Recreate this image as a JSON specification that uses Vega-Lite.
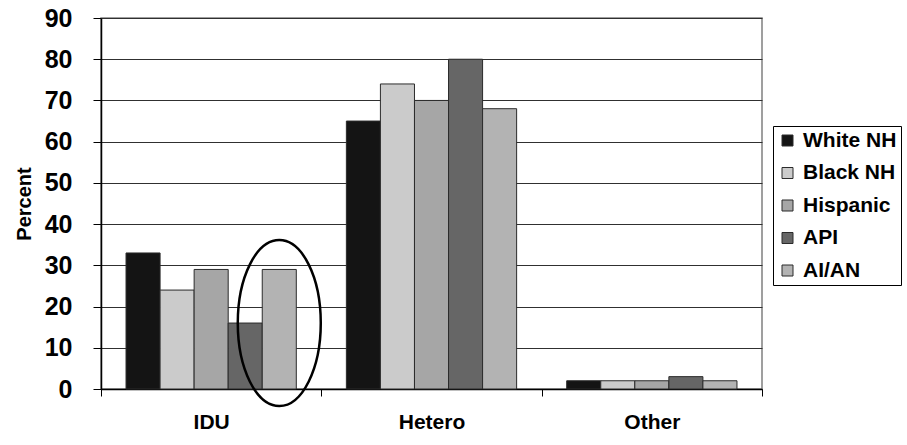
{
  "$schema": "https://vega.github.io/schema/vega-lite/v6.json",
  "autosize": "none",
  "width": 661,
  "height": 371,
  "padding": {"left": 101, "top": 18, "right": 145, "bottom": 56},
  "background": "white",
  "config": {
    "font": "Liberation Sans",
    "view": {"stroke": "#808080", "strokeWidth": 1.5},
    "axis": {"labelFont": "Liberation Sans", "titleFont": "Liberation Sans", "labelFontWeight": "bold", "titleFontWeight": "bold", "labelColor": "black", "titleColor": "black"},
    "legend": {"labelFont": "Liberation Sans", "labelFontWeight": "bold", "strokeColor": "black"}
  },
  "datasets": {
    "bars": [
      {"group": "IDU", "race": "White NH", "value": 33},
      {"group": "IDU", "race": "Black NH", "value": 24},
      {"group": "IDU", "race": "Hispanic", "value": 29},
      {"group": "IDU", "race": "API", "value": 16},
      {"group": "IDU", "race": "AI/AN", "value": 29},
      {"group": "Hetero", "race": "White NH", "value": 65},
      {"group": "Hetero", "race": "Black NH", "value": 74},
      {"group": "Hetero", "race": "Hispanic", "value": 70},
      {"group": "Hetero", "race": "API", "value": 80},
      {"group": "Hetero", "race": "AI/AN", "value": 68},
      {"group": "Other", "race": "White NH", "value": 2},
      {"group": "Other", "race": "Black NH", "value": 2},
      {"group": "Other", "race": "Hispanic", "value": 2},
      {"group": "Other", "race": "API", "value": 3},
      {"group": "Other", "race": "AI/AN", "value": 2}
    ],
    "annotation": [
      {"group": "IDU", "race": "AI/AN", "value": 16}
    ]
  },
  "layer": [
    {
      "data": {"name": "bars"},
      "mark": {"type": "bar", "stroke": "#2b2b2b", "strokeWidth": 1},
      "encoding": {
        "x": {
          "field": "group", "type": "nominal", "sort": ["IDU", "Hetero", "Other"],
          "scale": {"paddingInner": 0, "paddingOuter": 0},
          "axis": {"title": null, "labelAngle": 0, "labelFontSize": 21, "labelPadding": 15, "tickBand": "extent", "tickSize": 7, "tickColor": "black", "domainColor": "black", "domainWidth": 1.5, "tickWidth": 1, "grid": false}
        },
        "xOffset": {
          "field": "race", "type": "nominal", "sort": ["White NH", "Black NH", "Hispanic", "API", "AI/AN"],
          "scale": {"paddingInner": 0, "paddingOuter": 0.735}
        },
        "y": {
          "field": "value", "type": "quantitative",
          "scale": {"domain": [0, 90], "nice": false},
          "axis": {"title": "Percent", "titleFontSize": 20, "titlePadding": 10, "values": [0, 10, 20, 30, 40, 50, 60, 70, 80, 90], "labelFontSize": 25, "labelPadding": 21, "tickSize": 8, "tickColor": "black", "domainColor": "black", "domainWidth": 1.5, "grid": true, "gridColor": "#303030", "gridWidth": 1}
        },
        "color": {
          "field": "race", "type": "nominal", "sort": ["White NH", "Black NH", "Hispanic", "API", "AI/AN"],
          "scale": {"domain": ["White NH", "Black NH", "Hispanic", "API", "AI/AN"], "range": ["#141414", "#cbcbcb", "#a6a6a6", "#666666", "#b3b3b3"]},
          "legend": {"title": null, "orient": "none", "legendX": 672, "legendY": 108, "labelFontSize": 21, "symbolType": "square", "symbolSize": 121, "symbolStrokeColor": "#2b2b2b", "symbolStrokeWidth": 1, "labelOffset": 5, "rowPadding": 10.5, "padding": 4, "strokeColor": "black", "cornerRadius": 0, "labelColor": "black"}
        }
      }
    },
    {
      "data": {"name": "annotation"},
      "mark": {"type": "point", "shape": "M0,-1 A0.5,1 0 1,1 0,1 A0.5,1 0 1,1 0,-1 Z", "size": 27556, "filled": false, "stroke": "black", "strokeWidth": 2.5, "opacity": 1},
      "encoding": {
        "x": {"field": "group", "type": "nominal", "sort": ["IDU", "Hetero", "Other"]},
        "xOffset": {"field": "race", "type": "nominal", "sort": ["White NH", "Black NH", "Hispanic", "API", "AI/AN"]},
        "y": {"field": "value", "type": "quantitative"}
      }
    }
  ]
}
